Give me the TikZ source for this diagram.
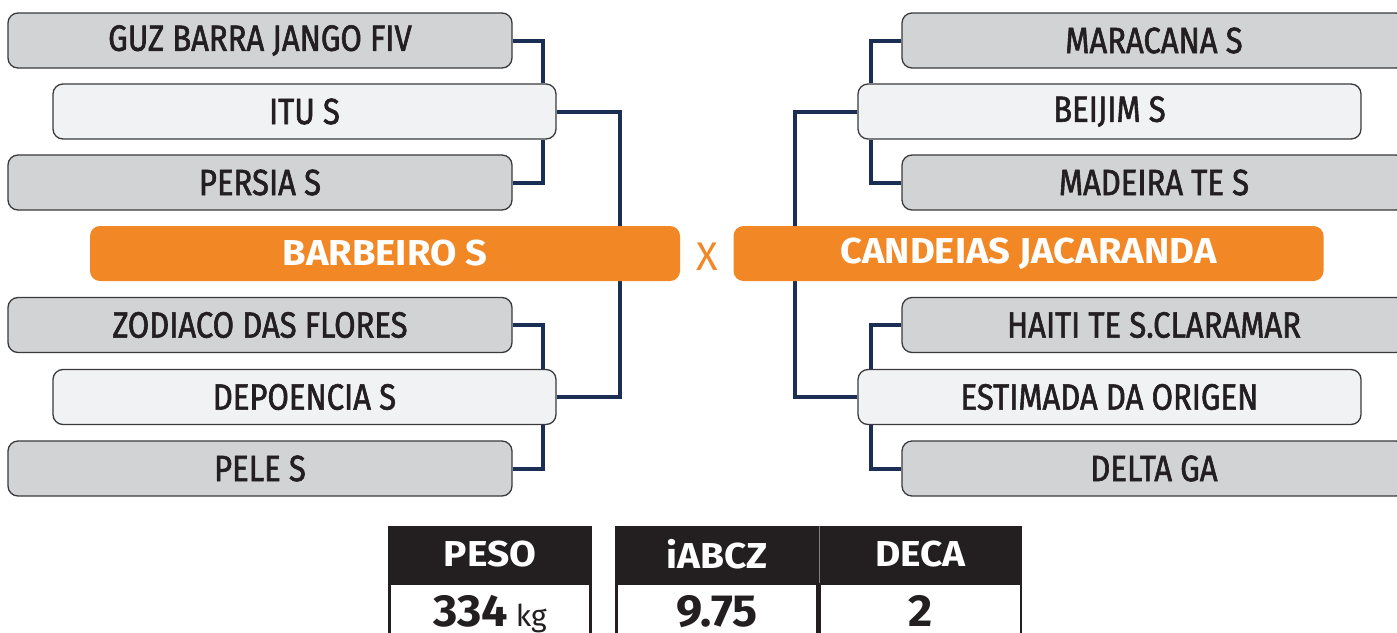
\documentclass[tikz,border=0pt]{standalone}
\usepackage{fontspec}
\usetikzlibrary{backgrounds}
\setmainfont{Fira Sans}
\newfontfamily\boxfont[FakeStretch=0.85, FakeBold=1.6]{Fira Sans}
\newfontfamily\finalfont[FakeStretch=1.06]{Fira Sans Bold}
\newfontfamily\tabfont[FakeStretch=1.08]{Fira Sans Bold}
\newfontfamily\valfont[FakeStretch=1.04]{Fira Sans Bold}
\definecolor{boxgray}{HTML}{D1D3D4}
\definecolor{boxlight}{HTML}{F1F2F4}
\definecolor{boxline}{HTML}{3A3A3C}
\definecolor{orng}{HTML}{F18825}
\definecolor{navy}{HTML}{1B2F55}
\definecolor{txt}{HTML}{231F20}
\definecolor{hdrbg}{HTML}{231F20}
\begin{document}
\begin{tikzpicture}[x=1pt,y=-1pt,
  team/.style={draw=boxline, line width=1.3pt, rounded corners=10pt, minimum height=55pt, inner sep=0pt, text=txt, font=\boxfont\fontsize{36.5}{36.5}\selectfont},
  gteam/.style={team, fill=boxgray, minimum width=504pt},
  lteam/.style={team, fill=boxlight, minimum width=503pt},
  final/.style={fill=orng, rounded corners=10pt, minimum height=55pt, minimum width=590pt, inner sep=0pt, text=white, font=\finalfont\fontsize{36}{36}\selectfont},
  conn/.style={draw=navy, line width=4pt},
  hdr/.style={fill=hdrbg, text=white, minimum height=57pt, inner sep=0pt, font=\tabfont\fontsize{36}{36}\selectfont},
  cell/.style={draw=txt, fill=white, line width=2.5pt, minimum height=57pt, inner sep=0pt},
  val/.style={text=txt, inner sep=0pt, font=\valfont\fontsize{45}{45}\selectfont, anchor=base}
]
\useasboundingbox (0,0) rectangle (1397,632);
\begin{scope}[on background layer]
\fill[white] (0,0) rectangle (1397,632);
\end{scope}
% coordinates for connector columns
\coordinate (la) at (543,0);
\coordinate (lb) at (620,0);
\coordinate (ra) at (871,0);
\coordinate (rb) at (795,0);
% left bracket
\node[gteam] (guz) at (260,40.5) {GUZ BARRA JANGO FIV};
\node[lteam] (itu) at (304.5,111.5) {ITU S};
\node[gteam] (persia) at (260,182.5) {PERSIA S};
\node[final] (barb) at (385,253.5) {BARBEIRO S};
\node[gteam] (zod) at (260,325) {ZODIACO DAS FLORES};
\node[lteam] (dep) at (304.5,397) {DEPOENCIA S};
\node[gteam] (pele) at (260,468.5) {PELE S};
% right bracket
\node[gteam] (mar) at (1154,40.5) {MARACANA S};
\node[lteam] (bei) at (1109.5,111.5) {BEIJIM S};
\node[gteam] (mad) at (1154,182.5) {MADEIRA TE S};
\node[final] (cand) at (1028.5,253.5) {CANDEIAS JACARANDA};
\node[gteam] (hai) at (1154,325) {HAITI TE S.CLARAMAR};
\node[lteam] (est) at (1109.5,397) {ESTIMADA DA ORIGEN};
\node[gteam] (del) at (1154,468.5) {DELTA GA};
\node[text=orng, inner sep=0pt, font=\fontsize{40}{40}\selectfont] (vs) at (707,257) {X};
% connectors (behind boxes)
\begin{scope}[on background layer]
\draw[conn] (guz.east) -| (la |- itu.north);
\draw[conn] (persia.east) -| (la |- itu.south);
\draw[conn] (itu.east) -| (lb |- barb.north);
\draw[conn] (dep.east) -| (lb |- barb.south);
\draw[conn] (zod.east) -| (la |- dep.north);
\draw[conn] (pele.east) -| (la |- dep.south);
\draw[conn] (mar.west) -| (ra |- bei.north);
\draw[conn] (mad.west) -| (ra |- bei.south);
\draw[conn] (bei.west) -| (rb |- cand.north);
\draw[conn] (est.west) -| (rb |- cand.south);
\draw[conn] (hai.west) -| (ra |- est.north);
\draw[conn] (del.west) -| (ra |- est.south);
\end{scope}
% table
\node[cell, minimum width=201pt] (c1) at (490,612) {};
\node[cell, minimum width=201pt] (c2) at (717,612) {};
\node[cell, minimum width=201pt] (c3) at (920.5,612) {};
\node[hdr, minimum width=204pt] (h1) at (490,554.5) {PESO};
\node[hdr, minimum width=204pt] (h2) at (717,554.5) {iABCZ};
\node[hdr, minimum width=203pt] (h3) at (920.5,554.5) {DECA};
\draw[gray, line width=0.6pt] (h2.north east) -- (h2.south east);
\node[val] (v1) at (490,626) {334\,{\rmfamily\fontsize{30}{30}\selectfont kg}};
\node[val] (v2) at (717,626) {9.75};
\node[val] (v3) at (920.5,626) {2};
\end{tikzpicture}
\end{document}
